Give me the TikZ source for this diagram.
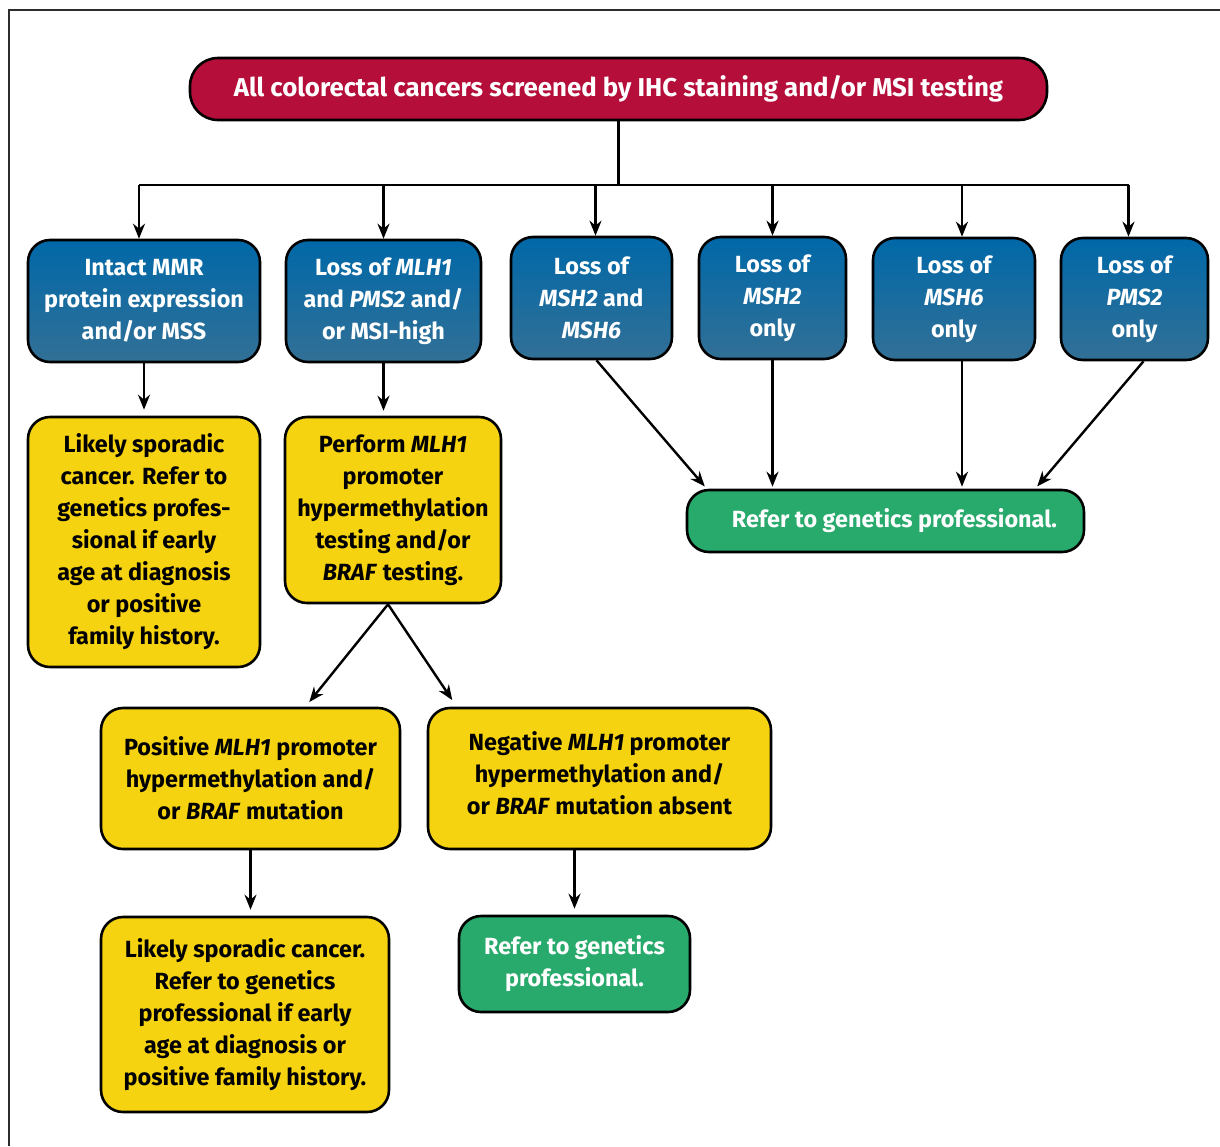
\documentclass[tikz,border=0pt]{standalone}
\usepackage{fontspec}
\setmainfont{Fira Sans}
\usepackage{tikz}
\usetikzlibrary{arrows.meta}
\definecolor{titlered}{RGB}{181,14,58}
\definecolor{bluetop}{RGB}{0,104,168}
\definecolor{bluebot}{RGB}{50,112,150}
\definecolor{sunyellow}{RGB}{246,211,16}
\definecolor{leafgreen}{RGB}{40,170,108}
\definecolor{framegray}{RGB}{45,45,45}

\begin{document}
\begin{tikzpicture}[x=1pt, y=-1pt, every node/.style={font=\fontsize{23.4}{32}\selectfont\bfseries, align=center, inner sep=0pt}, base/.style={draw=black, line width=2.6pt, rounded corners=22pt}, rbox/.style={base, fill=titlered, text=white, rounded corners=28pt, font=\fontsize{25.8}{32}\selectfont\bfseries}, bbox/.style={base, top color=bluetop, bottom color=bluebot, text=white}, ybox/.style={base, fill=sunyellow, text=black}, gbox/.style={base, fill=leafgreen, text=white}, arr/.style={-{Stealth[length=15pt,width=12pt]}, line width=2.4pt}]
\useasboundingbox (0,0) rectangle (1220,1146);
\draw[framegray, line width=2pt] (9,1146) -- (9,10) -- (1220,10);

% screening step
\node[rbox, minimum width=857pt, minimum height=62pt] (title) at (618.5,89) {All colorectal cancers screened by IHC staining and/or MSI testing};

% IHC / MSI results
\node[bbox, minimum width=232pt, minimum height=122pt] (b1) at (144,301) {Intact MMR\\protein expression\\and/or MSS};
\node[bbox, minimum width=195pt, minimum height=122pt] (b2) at (383.5,301) {Loss of \textit{MLH1}\\and \textit{PMS2} and/\\or MSI-high};
\node[bbox, minimum width=161pt, minimum height=122pt] (b3) at (591.5,298) {Loss of\\\textit{MSH2} and\\\textit{MSH6}};
\node[bbox, minimum width=147pt, minimum height=122pt] (b4) at (772.5,298) {Loss of\\\textit{MSH2}\\only};
\node[bbox, minimum width=162pt, minimum height=122pt] (b5) at (954,299) {Loss of\\\textit{MSH6}\\only};
\node[bbox, minimum width=147pt, minimum height=122pt] (b6) at (1134.5,299) {Loss of\\\textit{PMS2}\\only};

% follow-up
\node[ybox, minimum width=232pt, minimum height=250pt] (y1) at (144,542) {Likely sporadic\\cancer. Refer to\\genetics profes-\\sional if early\\age at diagnosis\\or positive\\family history.};
\node[ybox, minimum width=216pt, minimum height=186pt] (y2) at (393,510) {Perform \textit{MLH1}\\promoter\\hypermethylation\\testing and/or\\\textit{BRAF} testing.};
\node[gbox, minimum width=397pt, minimum height=62pt] (g1) at (885.5,521) {\hspace*{18pt}Refer to genetics professional.};
\node[ybox, minimum width=299pt, minimum height=141pt] (y3) at (250.5,778.5) {Positive \textit{MLH1} promoter\\hypermethylation and/\\or \textit{BRAF} mutation};
\node[ybox, minimum width=343pt, minimum height=141pt] (y4) at (599.5,778.5) {Negative \textit{MLH1} promoter\\hypermethylation and/\\or \textit{BRAF} mutation absent\\[-20pt]};
\node[ybox, minimum width=288pt, minimum height=195pt] (y5) at (245,1014.5) {Likely sporadic cancer.\\Refer to genetics\\professional if early\\age at diagnosis or\\positive family history.};
\node[gbox, minimum width=231pt, minimum height=96pt] (g2) at (574.5,964) {Refer to genetics\\professional.};

% branching bar under the title
\coordinate (bar) at (620,185);
\draw[line width=2.4pt] (title.south) -- (title.south |- bar);
\draw[line width=2.4pt] ([xshift=-5pt]b1.north |- bar) -- ([xshift=-6pt]b6.north |- bar);
\foreach \b/\d in {b1/-5,b2/0,b3/4,b4/0,b5/8,b6/-6} {
  \path ([xshift=\d pt]\b.north) coordinate (top);
  \draw[arr] (top |- bar) -- (top);
}

\draw[arr, shorten >=6pt] (b1.south) -- (y1.north);
\draw[arr, shorten >=5pt] (b2.south) -- (b2.south |- y2.north);
\draw[arr, shorten >=3pt] ([xshift=5pt]b3.south) -- ([xshift=21pt]g1.north west);
\draw[arr, shorten >=2pt] (b4.south) -- (b4.south |- g1.north);
\draw[arr, shorten >=2pt] ([xshift=8pt]b5.south) -- ([xshift=8pt]b5.south |- g1.north);
\draw[arr, shorten >=3pt] ([xshift=9pt]b6.south) -- ([xshift=-50pt]g1.north east);
\draw[arr, shorten >=6pt] ([xshift=-5pt]y2.south) -- ([xshift=55pt]y3.north);
\draw[arr, shorten >=8pt] ([xshift=-5pt]y2.south) -- ([xshift=30pt]y4.north west);
\draw[arr, shorten >=6pt] (y3.south) -- (y3.south |- y5.north);
\draw[arr, shorten >=6pt] (g2.north |- y4.south) -- (g2.north);
\end{tikzpicture}
\end{document}
